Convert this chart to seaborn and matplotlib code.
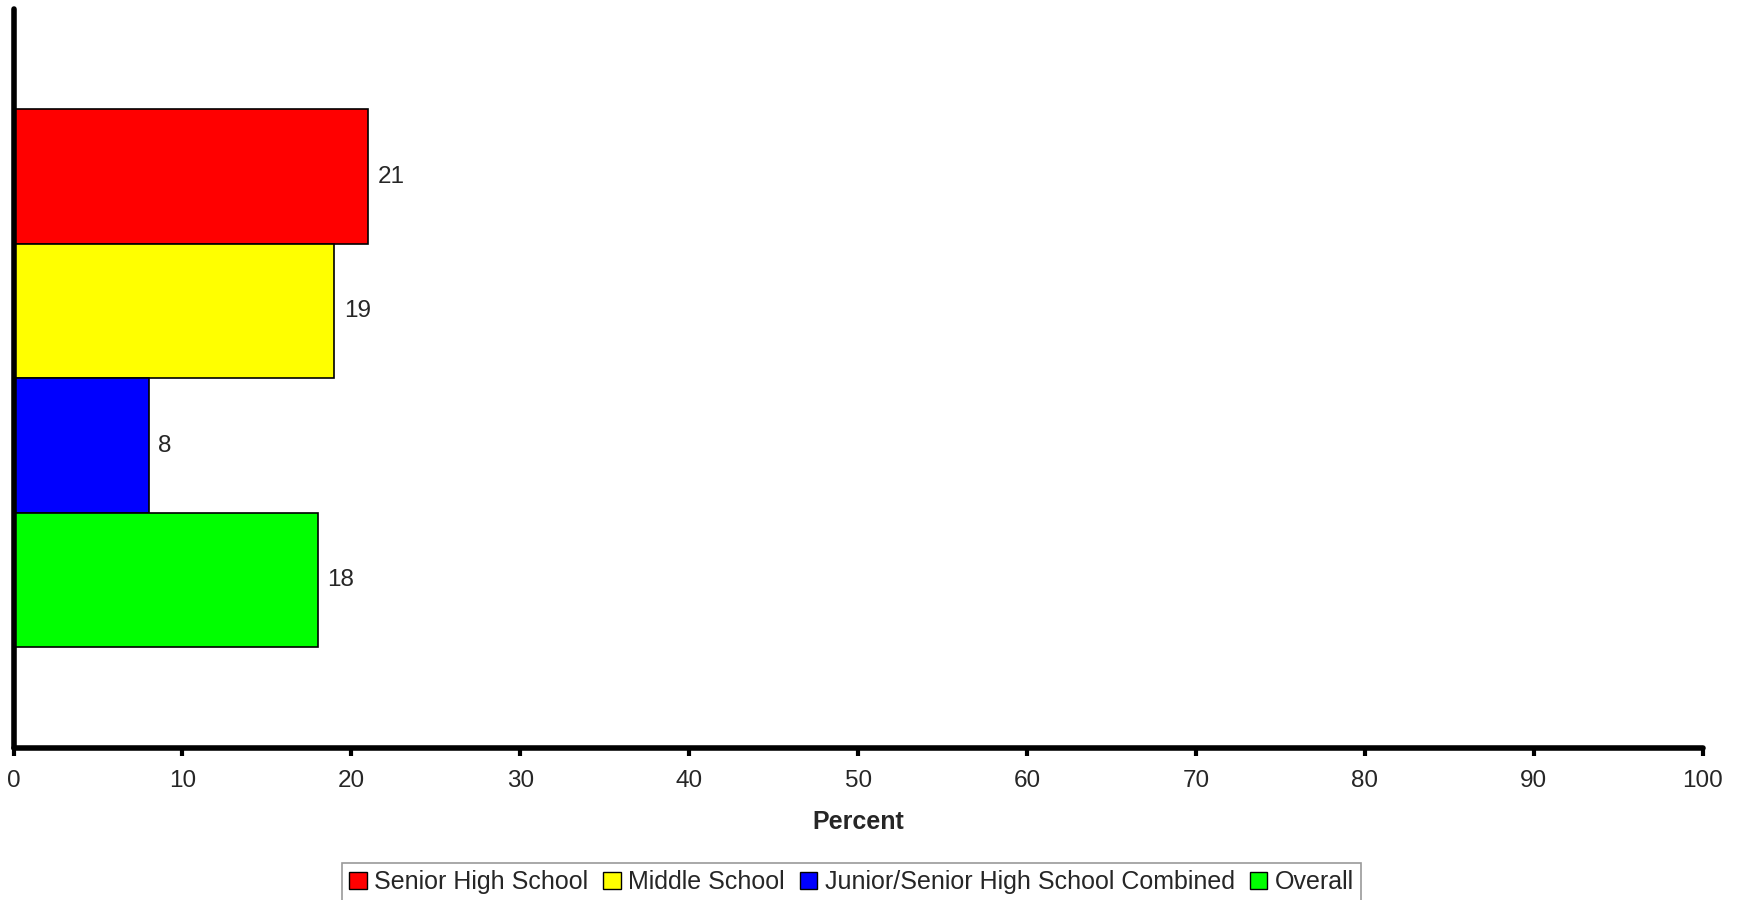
import matplotlib
matplotlib.use('Agg')
import matplotlib.pyplot as plt
import seaborn as sns
import pandas as pd

# 数据
groups = ['Senior High School', 'Middle School',
          'Junior/Senior High School Combined', 'Overall']
values = [21, 19, 8, 18]
colors = ['#FF0000', '#FFFF00', '#0000FF', '#00FF00']
xticks = [0, 10, 20, 30, 40, 50, 60, 70, 80, 90, 100]

sns.set_theme(style='white')
plt.rcParams['font.family'] = ['Liberation Sans', 'DejaVu Sans']

df = pd.DataFrame({'cat': [''] * len(groups), 'group': groups, 'value': values})

fig = plt.figure(figsize=(17.43, 9), dpi=100)
ax = fig.add_axes([0.0078, 0.169, 0.969, 0.821])

sns.barplot(data=df, x='value', y='cat', hue='group', hue_order=groups,
            palette=colors, orient='h', width=0.728, dodge=True,
            edgecolor='black', linewidth=1.2, saturation=1, ax=ax, legend=False)

for cont in ax.containers:
    ax.bar_label(cont, fmt='%g', padding=7, fontsize=17.5)

ax.set_xlim(0, 100)
ax.set_ylim(0.5, -0.5)
ax.set_xticks(xticks)
ax.set_yticks([])
ax.set_ylabel('')
ax.set_xlabel('Percent', fontsize=18, fontweight='bold', labelpad=13)
ax.tick_params(axis='x', direction='out', length=6, width=3, color='black',
               labelsize=17.5, pad=10, bottom=True)
for side in ['top', 'right']:
    ax.spines[side].set_visible(False)
for side in ['left', 'bottom']:
    ax.spines[side].set_linewidth(4)
    ax.spines[side].set_color('black')
    ax.spines[side].set_capstyle('round')

handles = [plt.Rectangle((0, 0), 1, 1, facecolor=c, edgecolor='black', linewidth=1)
           for c in colors]
leg = fig.legend(handles, groups, loc='lower center', bbox_to_anchor=(0.4885, -0.016),
                 ncol=4, fontsize=18, frameon=True, fancybox=False,
                 handlelength=0.7, handleheight=0.7, handletextpad=0.3,
                 columnspacing=0.6, borderpad=0.3)
leg.get_frame().set_edgecolor('#808080')
leg.get_frame().set_linewidth(1.2)

fig.savefig('out.png', dpi=100)
